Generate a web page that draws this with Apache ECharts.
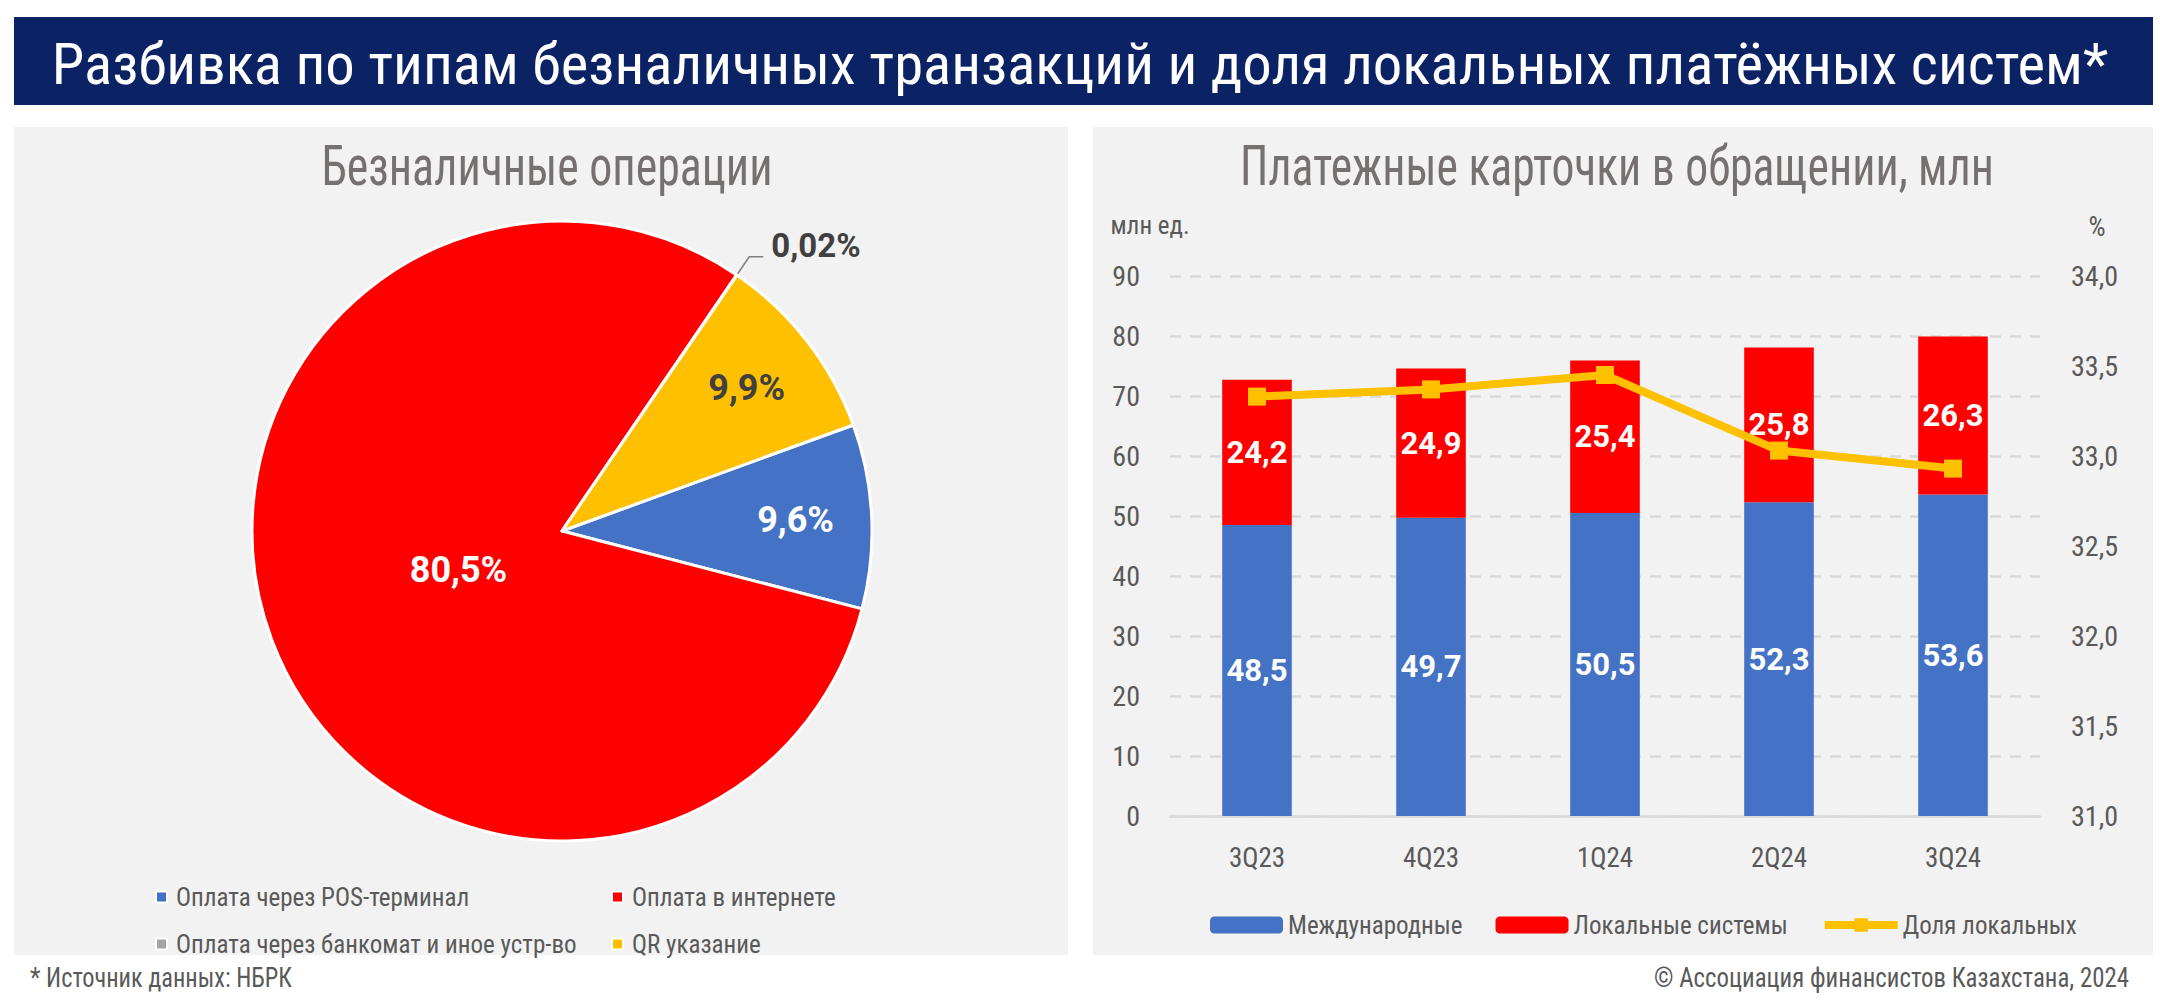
<!DOCTYPE html>
<html>
<head>
<meta charset="utf-8">
<script src="https://cdn.jsdelivr.net/npm/echarts@6/dist/echarts.min.js"></script>
<style>
  html, body { margin: 0; padding: 0; background: #fff; }
  #chart { width: 2160px; height: 1007px; }
</style>
</head>
<body>
<div id="chart"></div>
<script>
// данные — левая диаграмма (безналичные операции, %)
const PAY_TYPES = [
  "Оплата через POS-терминал",
  "Оплата в интернете",
  "Оплата через банкомат и иное устр-во",
  "QR указание",
];
const PAY_SHARES = [9.6, 80.5, 0.02, 9.9];

// данные — правая диаграмма (карточки, млн ед. и доля локальных, %)
const QUARTERS = ["3Q23", "4Q23", "1Q24", "2Q24", "3Q24"];
const INTERNATIONAL = [48.5, 49.7, 50.5, 52.3, 53.6];
const LOCAL = [24.2, 24.9, 25.4, 25.8, 26.3];
const LOCAL_SHARE = [33.33, 33.37, 33.45, 33.03, 32.93];

const C = {
  blue: "#4472c4",
  red: "#ff0000",
  grey: "#a5a5a5",
  yellow: "#ffc000",
  navy: "#0b2265",
  panel: "#f2f2f2",
  title: "#767171",
  text: "#595959",
  grid: "#d9d9d9",
};
const COND = "'Roboto Condensed', 'DejaVu Sans Condensed', sans-serif";
const BOLD = "Roboto, 'DejaVu Sans', sans-serif";

// геометрия круговой
const PIE_CX = 562, PIE_CY = 531, PIE_R = 310;

const fmtComma = (v, d) => (d == null ? String(v) : v.toFixed(d)).replace(".", ",");

// заголовки и сноски: шрифт шире, чем в оригинале, поэтому сжимаем по ширине
const measure = document.createElement("canvas").getContext("2d");
function fitText(text, x, y, size, width, color, align) {
  measure.font = `${size}px ${COND}`;
  const natural = measure.measureText(text).width;
  return {
    type: "text",
    x, y,
    scaleX: width / natural,
    style: {
      text, x: 0, y: 0,
      fill: color,
      fontSize: size,
      fontFamily: COND,
      textAlign: align || "center",
      textVerticalAlign: "middle",
    },
  };
}

const chart = echarts.init(document.getElementById("chart"), null, { renderer: "svg" });

const pieLegend = (items, left) => ({
  data: items,
  orient: "vertical",
  left, top: 877,
  itemWidth: 11, itemHeight: 11, itemGap: 17,
  icon: "rect",
  textStyle: { fontSize: 25, color: C.text, fontFamily: COND, lineHeight: 30, padding: [0, 0, 0, 4] },
});

const barLabel = {
  show: true, position: "inside", color: "#fff",
  fontFamily: BOLD, fontWeight: "bold", fontSize: 31,
  formatter: (p) => fmtComma(p.value),
};

chart.setOption({
  animation: false,
  backgroundColor: "#fff",
  textStyle: { fontFamily: COND, color: C.text },
  graphic: [
    { type: "rect", shape: { x: 14, y: 17, width: 2139, height: 88 }, style: { fill: C.navy }, z: -10 },
    { type: "rect", shape: { x: 14, y: 127, width: 1054, height: 828 }, style: { fill: C.panel }, z: -10 },
    { type: "rect", shape: { x: 1093, y: 127, width: 1060, height: 828 }, style: { fill: C.panel }, z: -10 },
    fitText("Разбивка по типам безналичных транзакций и доля локальных платёжных систем*", 1080, 64, 57, 2056, "#fff"),
    fitText("Безналичные операции", 547, 166, 56, 451, C.title),
    fitText("Платежные карточки в обращении, млн", 1617, 166, 56, 754, C.title),
    fitText("* Источник данных: НБРК", 30, 978, 27, 262, C.text, "left"),
    fitText("© Ассоциация финансистов Казахстана, 2024", 2129, 978, 27, 475, C.text, "right"),
  ],
  legend: [
    pieLegend([PAY_TYPES[0], PAY_TYPES[2]], 150),
    pieLegend([PAY_TYPES[1], PAY_TYPES[3]], 606),
    {
      data: [
        "Международные",
        "Локальные системы",
        { name: "Доля локальных", lineStyle: { width: 8 } },
      ],
      left: 1205, top: 904, width: 940,
      itemWidth: 73, itemHeight: 17, itemGap: 33,
      textStyle: { fontSize: 25, color: C.text, fontFamily: COND, lineHeight: 32 },
    },
  ],
  grid: { left: 1170, right: 120, top: 276, bottom: 191 },
  xAxis: {
    type: "category",
    data: QUARTERS,
    axisTick: { show: false },
    axisLine: { lineStyle: { color: C.grid, width: 2.5 } },
    axisLabel: { color: C.text, fontSize: 27, fontFamily: COND, margin: 28 },
  },
  yAxis: [
    {
      type: "value",
      min: 0, max: 90, interval: 10,
      name: "млн ед.",
      nameLocation: "end",
      nameGap: 38,
      nameTextStyle: { color: C.text, fontSize: 25, fontFamily: COND, padding: [0, 40, 0, 0] },
      axisLabel: { color: C.text, fontSize: 28, fontFamily: COND, margin: 30 },
      axisLine: { show: false },
      axisTick: { show: false },
      splitLine: { lineStyle: { color: C.grid, width: 2.5, type: [11, 9] } },
    },
    {
      type: "value",
      min: 31, max: 34, interval: 0.5,
      name: "%",
      nameLocation: "end",
      nameGap: 36,
      nameTextStyle: { color: C.text, fontSize: 27, fontFamily: COND, padding: [0, 0, 0, 114] },
      axisLabel: { color: C.text, fontSize: 28, fontFamily: COND, margin: 31, formatter: (v) => fmtComma(v, 1) },
      axisLine: { show: false },
      axisTick: { show: false },
      splitLine: { show: false },
    },
  ],
  series: [
    {
      name: "Безналичные операции",
      type: "pie",
      center: [PIE_CX, PIE_CY],
      radius: PIE_R,
      startAngle: 20,
      clockwise: true,
      avoidLabelOverlap: false,
      legendHoverLink: false,
      itemStyle: { borderColor: "#fff", borderWidth: 3 },
      label: {
        position: "inside",
        fontFamily: BOLD,
        fontWeight: "bold",
        fontSize: 36,
        color: "#fff",
        formatter: (p) => fmtComma(p.value) + "%",
      },
      labelLine: { show: false },
      labelLayout: (p) => {
        if (p.dataIndex === 2) return {};
        // подвинуть метку вдоль радиуса: красная ближе к центру, синяя и жёлтая — к краю
        const k = p.dataIndex === 1 ? 0.35 : 0.74;
        const lx = p.labelRect.x + p.labelRect.width / 2 - PIE_CX;
        const ly = p.labelRect.y + p.labelRect.height / 2 - PIE_CY;
        const f = k / 0.5 - 1;
        return { dx: lx * f, dy: ly * f };
      },
      data: PAY_TYPES.map((name, i) => {
        const colors = [C.blue, C.red, C.grey, C.yellow];
        const item = { name, value: PAY_SHARES[i], itemStyle: { color: colors[i] } };
        if (i === 3) item.label = { color: "#404040" };
        if (i === 2) {
          // пустая вторая строка поднимает подпись над выноской
          item.label = {
            position: "outside", color: "#404040", fontSize: 33, lineHeight: 22,
            distanceToLabelLine: 8,
            formatter: (p) => fmtComma(p.value) + "%\n",
          };
          item.labelLine = { show: true, length: 22, length2: 14, lineStyle: { color: "#7f7f7f", width: 1.5 } };
        }
        return item;
      }),
    },
    {
      name: "Международные",
      type: "bar",
      stack: "cards",
      barWidth: "40%",
      itemStyle: { color: C.blue },
      label: barLabel,
      data: INTERNATIONAL,
    },
    {
      name: "Локальные системы",
      type: "bar",
      stack: "cards",
      barWidth: "40%",
      itemStyle: { color: C.red },
      label: barLabel,
      data: LOCAL,
    },
    {
      name: "Доля локальных",
      type: "line",
      yAxisIndex: 1,
      symbol: "rect",
      symbolSize: 18,
      lineStyle: { color: C.yellow, width: 8 },
      itemStyle: { color: C.yellow },
      data: LOCAL_SHARE,
      z: 5,
    },
  ],
});
</script>
</body>
</html>
